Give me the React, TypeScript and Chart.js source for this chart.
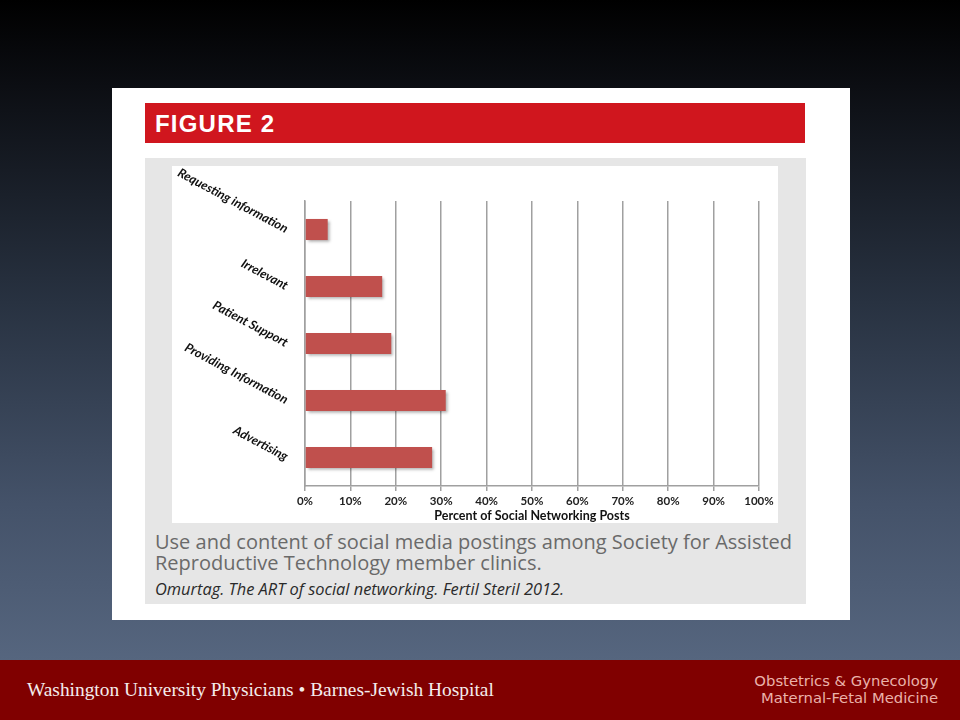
import React, { useEffect, useRef } from "react";
import { Chart, registerables } from "chart.js";

Chart.register(...registerables);

const categories = [
  "Requesting information",
  "Irrelevant",
  "Patient Support",
  "Providing Information",
  "Advertising",
];
const percentValues = [5, 17, 19, 31, 28];
const xTickValues = [0, 10, 20, 30, 40, 50, 60, 70, 80, 90, 100];
const axisTitle = "Percent of Social Networking Posts";
const figureTitle = "FIGURE 2";
const captionLine = "Use and content of social media postings among Society for Assisted Reproductive Technology member clinics.";
const citation = "Omurtag. The ART of social networking. Fertil Steril 2012.";
const footerLeft = "Washington University Physicians \u2022 Barnes-Jewish Hospital";
const footerRight = ["Obstetrics & Gynecology", "Maternal-Fetal Medicine"];

const shadowPlugin = {
  id: "barShadow",
  beforeDatasetsDraw(chart: any) {
    const ctx = chart.ctx;
    ctx.save();
    ctx.shadowColor = "rgba(0,0,0,0.35)";
    ctx.shadowBlur = 3;
    ctx.shadowOffsetX = 2;
    ctx.shadowOffsetY = 2;
  },
  afterDatasetsDraw(chart: any) {
    chart.ctx.restore();
  },
};

function BarChart() {
  const ref = useRef<HTMLCanvasElement | null>(null);
  useEffect(() => {
    if (!ref.current) return;
    const chart = new Chart(ref.current, {
      type: "bar",
      data: {
        labels: categories,
        datasets: [
          {
            data: percentValues,
            backgroundColor: "#c0504d",
            borderWidth: 0,
            categoryPercentage: 1,
            barPercentage: 0.37,
          },
        ],
      },
      options: {
        indexAxis: "y",
        responsive: false,
        animation: false,
        events: [],
        layout: { padding: { top: 35, right: 19, left: 0, bottom: 0 } },
        plugins: { legend: { display: false }, tooltip: { enabled: false } },
        scales: {
          x: {
            min: 0,
            max: 100,
            afterBuildTicks: (s: any) => {
              s.ticks = xTickValues.map((v) => ({ value: v }));
            },
            ticks: {
              callback: (v: any) => v + "%",
              color: "#222",
              font: { family: "Lato", size: 11.5, weight: "bold" },
              padding: 3,
              maxRotation: 0,
            },
            grid: { color: "#a0a0a0", lineWidth: 1.5, tickLength: 5, drawTicks: true },
            border: { display: true, color: "#a0a0a0", width: 1.5 },
            title: {
              display: true,
              text: axisTitle,
              color: "#111",
              font: { family: "Lato", size: 12.5, weight: "bold" },
              padding: { top: 0, bottom: 0 },
            },
            afterFit: (s: any) => {
              s.height = 37;
            },
          },
          y: {
            ticks: {
              minRotation: -28,
              maxRotation: 90,
              color: "#111",
              padding: 18,
              font: { family: "Lato", size: 12.5, weight: "bold", style: "italic" },
            },
            grid: { display: false, drawTicks: false },
            border: { display: true, color: "#a0a0a0", width: 1.5 },
            afterFit: (s: any) => {
              s.width = 133;
            },
          },
        },
      },
      plugins: [shadowPlugin],
    } as any);
    return () => chart.destroy();
  }, []);
  return <canvas ref={ref} width={606} height={357} style={{ display: "block" }} />;
}

export default function App() {
  return (
    <div
      style={{
        position: "fixed",
        left: 0,
        top: 0,
        width: 960,
        height: 720,
        overflow: "hidden",
        background:
          "linear-gradient(to bottom, #000000 0%, #0c0e13 12%, #283241 42%, #445269 70%, #56667f 92%)",
      }}
    >
      {/* white card */}
      <div style={{ position: "absolute", left: 112, top: 88, width: 738, height: 532, background: "#ffffff" }} />
      {/* red header */}
      <div style={{ position: "absolute", left: 145, top: 103, width: 660, height: 40, background: "#d0161e" }}>
        <div
          style={{
            position: "absolute",
            left: 10,
            top: 7,
            color: "#fff",
            fontFamily: "'Liberation Sans', Arial, sans-serif",
            fontWeight: "bold",
            fontSize: 24,
            letterSpacing: 1.2,
            lineHeight: "27px",
          }}
        >
          {figureTitle}
        </div>
      </div>
      {/* gray panel */}
      <div style={{ position: "absolute", left: 145, top: 158, width: 661, height: 446, background: "#e6e6e6" }} />
      {/* chart white box */}
      <div style={{ position: "absolute", left: 172, top: 166, width: 606, height: 357, background: "#ffffff" }}>
        <BarChart />
      </div>
      {/* caption */}
      <div
        style={{
          position: "absolute",
          left: 155,
          top: 531,
          width: 650,
          color: "#6a6a6a",
          fontFamily: "'Open Sans', sans-serif",
          fontSize: 20,
          lineHeight: "21px",
        }}
      >
        {captionLine}
      </div>
      <div
        style={{
          position: "absolute",
          left: 155,
          top: 579,
          color: "#2a2a2a",
          fontFamily: "'Open Sans', sans-serif",
          fontStyle: "italic",
          fontSize: 16.4,
          lineHeight: "20px",
          whiteSpace: "nowrap",
        }}
      >
        {citation}
      </div>
      {/* footer */}
      <div style={{ position: "absolute", left: 0, top: 660, width: 960, height: 60, background: "#800000" }}>
        <div
          style={{
            position: "absolute",
            left: 27,
            top: 19,
            color: "#f4ecec",
            fontFamily: "'Liberation Serif', 'DejaVu Serif', serif",
            fontSize: 19.4,
            lineHeight: "22px",
            whiteSpace: "nowrap",
          }}
        >
          {footerLeft}
        </div>
        <div
          style={{
            position: "absolute",
            right: 22,
            top: 12,
            textAlign: "right",
            color: "#eab2aa",
            fontFamily: "'DejaVu Sans', sans-serif",
            fontSize: 14.8,
            lineHeight: "17px",
            whiteSpace: "nowrap",
          }}
        >
          {footerRight.map((t) => (
            <div key={t}>{t}</div>
          ))}
        </div>
      </div>
    </div>
  );
}
